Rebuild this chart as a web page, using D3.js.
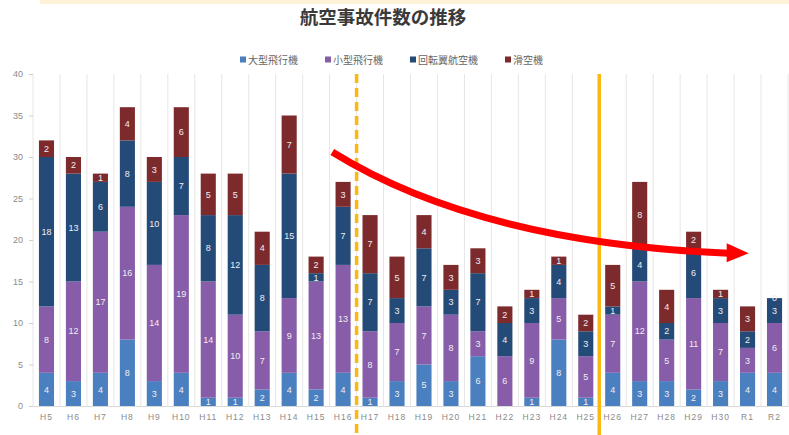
<!DOCTYPE html>
<html>
<head>
<meta charset="utf-8">
<script src="https://cdn.jsdelivr.net/npm/d3@7"></script>
<style>
  body { margin: 0; background: #fff; }
  svg { display: block; font-family: "Liberation Sans", "Noto Sans CJK JP", sans-serif; }
</style>
</head>
<body>
<script>
// fiscal years
var years = ["H5","H6","H7","H8","H9","H10","H11","H12","H13","H14","H15","H16","H17","H18",
  "H19","H20","H21","H22","H23","H24","H25","H26","H27","H28","H29","H30","R1","R2"];

// accident counts per aircraft type
var largePlane = [4,3,4,8,3,4,1,1,2,4,2,4,1,3,5,3,6,0,1,8,1,4,3,3,2,3,4,4];
var smallPlane = [8,12,17,16,14,19,14,10,7,9,13,13,8,7,7,8,3,6,9,5,5,7,12,5,11,7,3,6];
var rotorcraft = [18,13,6,8,10,7,8,12,8,15,1,7,7,3,7,3,7,4,3,4,3,1,4,2,6,3,2,3];
var glider     = [2,2,1,4,3,6,5,5,4,7,2,3,7,5,4,3,3,2,1,1,2,5,8,4,2,1,3,0];

var seriesNames = ["大型飛行機","小型飛行機","回転翼航空機","滑空機"];
var seriesColors = ["#4a7fc0","#875ca8","#244a78","#7d2a2c"];
var yTicks = [0,5,10,15,20,25,30,35,40];

// trend arrow path, in [category index, count] units
var trendPts = [[11.1, 30.6], [16.5, 19.7], [25.8, 18.4]];

var width = 789, height = 435;
var margin = {top: 74, right: 1, bottom: 29, left: 33};

var svg = d3.select("body").append("svg")
  .attr("width", width)
  .attr("height", height);

// faint band along the top edge
svg.append("rect")
  .attr("x", 40).attr("y", 0)
  .attr("width", width - 40).attr("height", 4)
  .attr("fill", "#fdf1d6");

var x = d3.scaleBand()
  .domain(years)
  .range([margin.left, width - margin.right])
  .paddingInner(0.44)
  .paddingOuter(0.22);

var xLin = d3.scaleLinear()
  .domain([0, years.length])
  .range([margin.left, margin.left + x.step() * years.length]);

var y = d3.scaleLinear()
  .domain([0, 40])
  .range([height - margin.bottom, margin.top]);

// title
svg.append("text")
  .attr("x", 383).attr("y", 24)
  .attr("text-anchor", "middle")
  .attr("font-family", "'Noto Sans CJK JP', sans-serif")
  .attr("font-weight", "bold")
  .attr("font-size", 18.5)
  .attr("fill", "#3a3a3a")
  .text("航空事故件数の推移");

// legend
var legendX = [240, 325, 410, 505];
var legend = svg.selectAll(".legend")
  .data(seriesNames)
  .enter().append("g")
  .attr("transform", function(d, i) { return "translate(" + legendX[i] + ",60)"; });
legend.append("rect")
  .attr("x", 0).attr("y", -3.5)
  .attr("width", 6).attr("height", 6)
  .attr("fill", function(d, i) { return seriesColors[i]; });
legend.append("text")
  .attr("x", 8).attr("y", 0)
  .attr("dy", "0.35em")
  .attr("font-family", "'Noto Sans CJK JP', sans-serif")
  .attr("font-size", 10)
  .attr("fill", "#666")
  .text(function(d) { return d; });

// vertical gridlines at category boundaries
var bounds = d3.range(years.length + 1);
svg.selectAll(".vgrid")
  .data(bounds)
  .enter().append("line")
  .attr("x1", function(d) { return xLin(d); })
  .attr("x2", function(d) { return xLin(d); })
  .attr("y1", y(40)).attr("y2", y(0))
  .attr("stroke", "#e6e6e6")
  .attr("stroke-width", 1);

// y axis
var yAxis = svg.append("g")
  .attr("transform", "translate(" + margin.left + ",0)")
  .call(d3.axisLeft(y).tickValues(yTicks).tickSize(4).tickPadding(6));
yAxis.select(".domain").remove();
yAxis.selectAll("line").attr("stroke", "#cfcfcf");
yAxis.selectAll("text").attr("fill", "#8a8a8a").attr("font-size", 9);

// x axis
var xAxis = svg.append("g")
  .attr("transform", "translate(0," + y(0) + ")")
  .call(d3.axisBottom(x).tickSize(0).tickPadding(8));
xAxis.select(".domain").attr("stroke", "#d9d9d9");
xAxis.selectAll("text")
  .attr("fill", "#8a8a8a")
  .attr("font-size", 8.5)
  .attr("letter-spacing", 1);

// stacked bars
var table = years.map(function(yr, i) {
  return {year: yr, s0: largePlane[i], s1: smallPlane[i], s2: rotorcraft[i], s3: glider[i]};
});
var stack = d3.stack().keys(["s0","s1","s2","s3"]);
var layers = stack(table);

var groups = svg.selectAll(".layer")
  .data(layers)
  .enter().append("g")
  .attr("fill", function(d, i) { return seriesColors[i]; });

groups.selectAll("rect")
  .data(function(d) { return d; })
  .enter().append("rect")
  .attr("x", function(d) { return x(d.data.year); })
  .attr("width", x.bandwidth())
  .attr("y", function(d) { return y(d[1]); })
  .attr("height", function(d) { return y(d[0]) - y(d[1]); });

groups.selectAll("text")
  .data(function(d) { return d; })
  .enter().append("text")
  .attr("x", function(d) { return x(d.data.year) + x.bandwidth() / 2; })
  .attr("y", function(d) { return (y(d[0]) + y(d[1])) / 2; })
  .attr("dy", "0.35em")
  .attr("text-anchor", "middle")
  .attr("font-size", 9)
  .attr("fill", "#f2eef2")
  .text(function(d) { return d[1] - d[0]; });

// era dividers
svg.append("line")
  .attr("x1", xLin(12)).attr("x2", xLin(12))
  .attr("y1", y(40)).attr("y2", height)
  .attr("stroke", "#fbb812")
  .attr("stroke-width", 3.5)
  .attr("stroke-dasharray", "9,5");
svg.append("line")
  .attr("x1", xLin(21)).attr("x2", xLin(21))
  .attr("y1", y(40)).attr("y2", height)
  .attr("stroke", "#fbb812")
  .attr("stroke-width", 3.5);

// downward trend arrow
var p = trendPts.map(function(d) { return [xLin(d[0]), y(d[1])]; });
svg.append("path")
  .attr("d", "M" + p[0] + "Q" + p[1] + " " + p[2])
  .attr("fill", "none")
  .attr("stroke", "#ff0000")
  .attr("stroke-width", 7);
var tip = [p[2][0] + 20, p[2][1]];
svg.append("path")
  .attr("d", "M" + [p[2][0] - 2, p[2][1] - 10] + "L" + tip + "L" + [p[2][0] - 2, p[2][1] + 9] + "Z")
  .attr("fill", "#ff0000");
</script>
</body>
</html>
